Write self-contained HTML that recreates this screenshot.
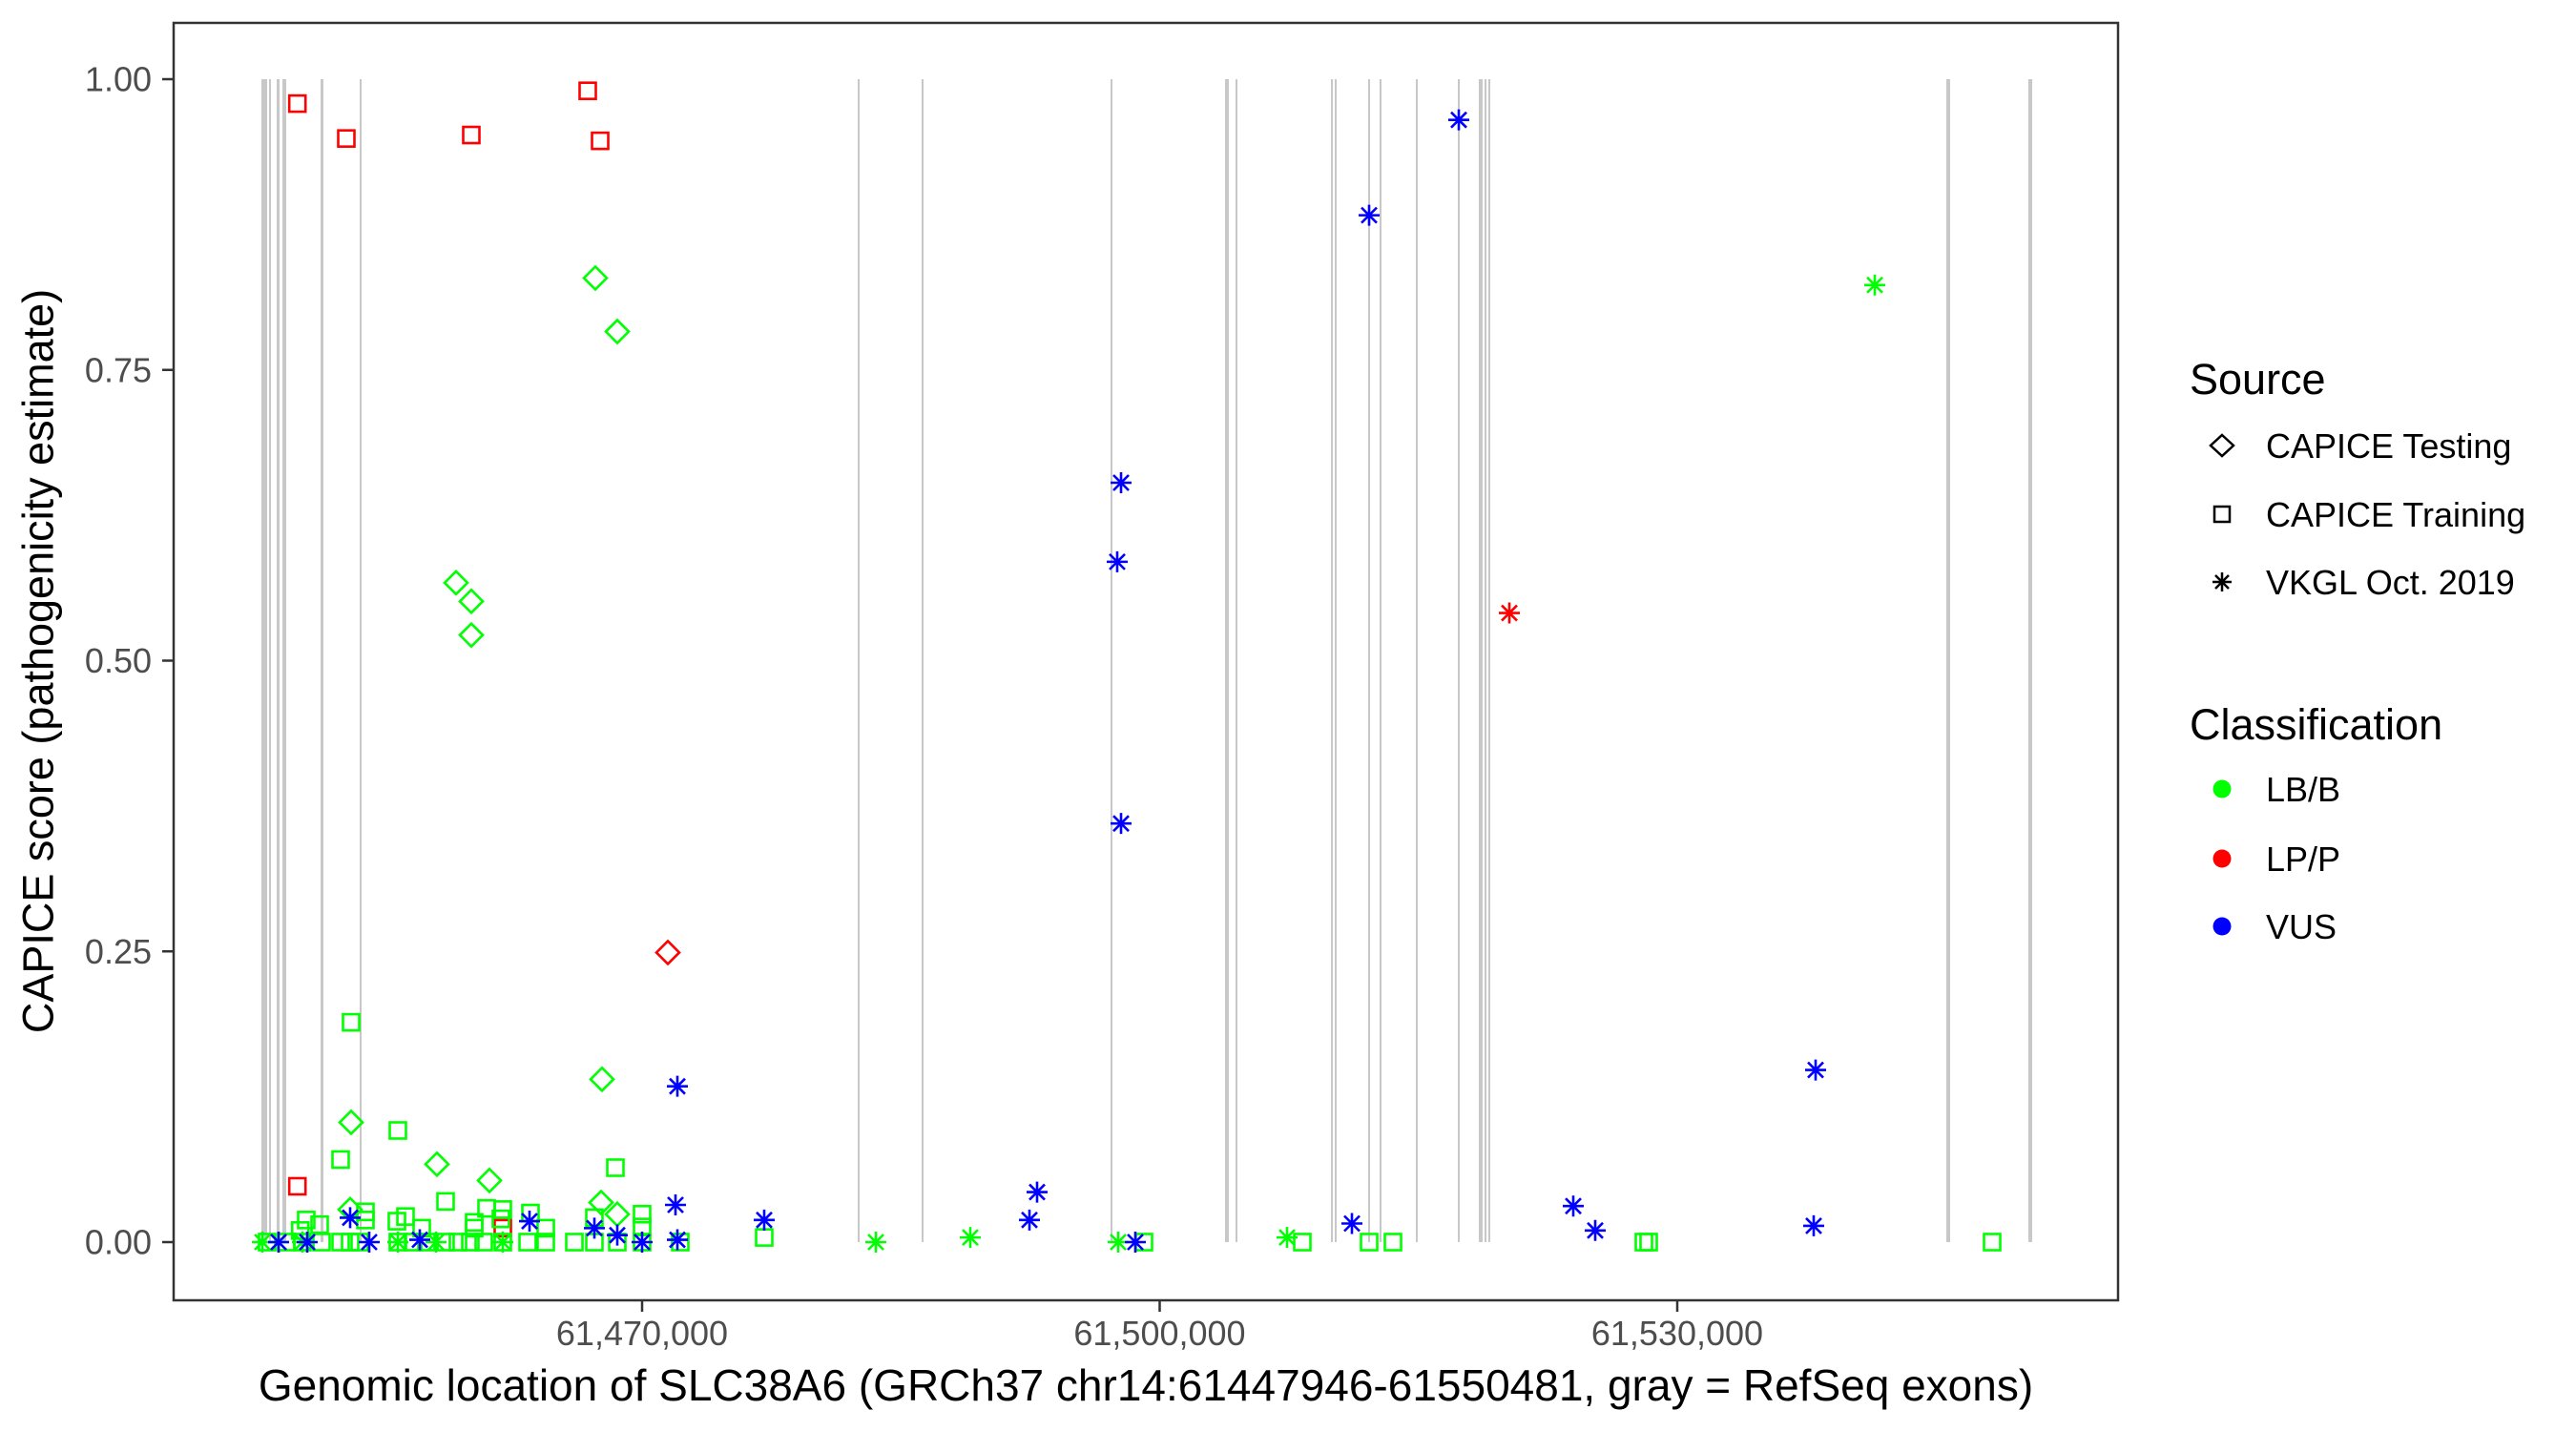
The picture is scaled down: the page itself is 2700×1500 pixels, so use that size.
<!DOCTYPE html>
<html><head><meta charset="utf-8">
<style>
html,body{margin:0;padding:0;background:#fff;}
svg{display:block;font-family:"Liberation Sans",Arial,sans-serif;}
</style></head>
<body>
<svg id="chart" width="2700" height="1500" viewBox="0 0 2700 1500" xmlns="http://www.w3.org/2000/svg">
  <rect x="0" y="0" width="2700" height="1500" fill="#fff"/>
  <g id="exons"></g>
  <g id="points"></g>
  <rect x="182" y="24" width="2038" height="1339" fill="none" stroke="#333" stroke-width="2.5"/>
  <g id="yaxis"></g>
  <g id="xaxis"></g>
  <text x="40" y="693" transform="rotate(-90 40 693)" text-anchor="middle" dominant-baseline="central" font-size="45" fill="#000">CAPICE score (pathogenicity estimate)</text>
  <text x="1201" y="1468" text-anchor="middle" font-size="46" fill="#000">Genomic location of SLC38A6 (GRCh37 chr14:61447946-61550481, gray = RefSeq exons)</text>
  <g id="legend">
    <text x="2295" y="413" font-size="45">Source</text>
    <g>
      <path d="M2329 456 L2341 467 L2329 478 L2317 467 Z" fill="none" stroke="#000" stroke-width="2.5"/>
      <text x="2375" y="480" font-size="36">CAPICE Testing</text>
    </g>
    <g>
      <rect x="2321" y="531" width="16" height="16" fill="none" stroke="#000" stroke-width="2.5"/>
      <text x="2375" y="552" font-size="36">CAPICE Training</text>
    </g>
    <g>
      <path d="M2319 610 H2339 M2329 600 V620 M2322 603 L2336 617 M2336 603 L2322 617" stroke="#000" stroke-width="2.5"/>
      <text x="2375" y="623" font-size="36">VKGL Oct. 2019</text>
    </g>
    <text x="2295" y="775" font-size="45">Classification</text>
    <g>
      <circle cx="2329" cy="827" r="9.5" fill="#00ff00"/>
      <text x="2375" y="840" font-size="36">LB/B</text>
    </g>
    <g>
      <circle cx="2329" cy="900" r="9.5" fill="#ff0000"/>
      <text x="2375" y="913" font-size="36">LP/P</text>
    </g>
    <g>
      <circle cx="2329" cy="971" r="9.5" fill="#0000ff"/>
      <text x="2375" y="984" font-size="36">VUS</text>
    </g>
  </g>
</svg>
<script>
const yTicks = [0, 0.25, 0.5, 0.75, 1.0];
const yTickLabels = ["0.00", "0.25", "0.50", "0.75", "1.00"];
const xTicks = [61470000, 61500000, 61530000];
const xTickLabels = ["61,470,000", "61,500,000", "61,530,000"];
const exonStarts = [61447935,61448378,61448820,61449152,61451364,61453631,61482498,61486203,61497152,61503788,61504397,61509927,61510148,61512083,61512747,61514848,61517282,61518498,61518830,61519051,61545595,61550351];
const exonEnds   = [61448267,61448489,61448986,61449373,61451530,61453742,61482608,61486314,61497263,61504010,61504507,61510037,61510258,61512194,61512858,61514959,61517392,61518719,61518941,61519162,61545816,61550572];
// source: T = CAPICE Testing, R = CAPICE Training, V = VKGL Oct. 2019 ; class: B = LB/B, P = LP/P, U = VUS
const pos = [
61461926,
61453134,61452525,61455843,61458608,61468452,61477078,61450534,61451309,61450185,61453963,61453963,61455788,61456286,61457226,61460986,61461926,61461816,61460267,61460267,61463530,61464415,61467235,61470000,61470000,
61448267,61449373,61450313,61451419,61452525,61453078,61453631,61455843,61456728,61457502,61458608,61459327,61460046,61460820,61461926,61463364,61464415,61466074,61467235,61468562,61470000,61472212,
61499088,61508268,61512139,61513521,61528065,61528342,61548250,
61450020,61452857,61460101,61466848,61467567,61450020,
61467290,61468562,61459216,61460101,61460101,61453134,61458110,61461152,61467677,61467622,61468562,61453078,
61471493,
61447991,61448931,61450313,61455843,61458055,61461926,61483549,61489023,61507383,61497595,61541448,
61520268,
61448931,61450590,61453078,61454184,61457115,61463475,61467235,61468562,61470000,61471936,61472046,61472046,61477078,61517337,61512139,61497761,61497539,61497761,61538019,61492894,61492452,61511143,61523973,61525245,61537908,61498590
];
const scores = [
0.012,
0.189,0.071,0.096,0.035,0.064,0.004,0.019,0.015,0.010,0.026,0.019,0.018,0.022,0.012,0.029,0.028,0.020,0.017,0.012,0.025,0.012,0.021,0.024,0.013,
0,0,0,0,0,0,0,0,0,0,0,0,0,0,0,0,0,0,0,0,0,0,
0,0,0,0,0,0,0,
0.979,0.949,0.952,0.990,0.947,0.048,
0.829,0.783,0.567,0.551,0.522,0.103,0.067,0.053,0.140,0.034,0.024,0.028,
0.249,
0,0,0,0,0,0,0,0.004,0.004,0,0.823,
0.541,
0,0,0.021,0,0.002,0.018,0.012,0.006,0,0.032,0.002,0.134,0.019,0.965,0.883,0.653,0.585,0.360,0.148,0.043,0.019,0.016,0.031,0.010,0.014,0
];
const sources = [
"R",
"R","R","R","R","R","R","R","R","R","R","R","R","R","R","R","R","R","R","R","R","R","R","R","R",
"R","R","R","R","R","R","R","R","R","R","R","R","R","R","R","R","R","R","R","R","R","R",
"R","R","R","R","R","R","R",
"R","R","R","R","R","R",
"T","T","T","T","T","T","T","T","T","T","T","T",
"T",
"V","V","V","V","V","V","V","V","V","V","V",
"V",
"V","V","V","V","V","V","V","V","V","V","V","V","V","V","V","V","V","V","V","V","V","V","V","V","V","V"
];
const classes = [
"P",
"B","B","B","B","B","B","B","B","B","B","B","B","B","B","B","B","B","B","B","B","B","B","B","B",
"B","B","B","B","B","B","B","B","B","B","B","B","B","B","B","B","B","B","B","B","B","B",
"B","B","B","B","B","B","B",
"P","P","P","P","P","P",
"B","B","B","B","B","B","B","B","B","B","B","B",
"P",
"B","B","B","B","B","B","B","B","B","B","B",
"P",
"U","U","U","U","U","U","U","U","U","U","U","U","U","U","U","U","U","U","U","U","U","U","U","U","U","U"
];
const classColors = {B:"#00ff00", P:"#ff0000", U:"#0000ff"};

const NS = "http://www.w3.org/2000/svg";
function xScale(bp){ return 673 + (bp - 61470000) * 0.0180833; }
function yScale(v){ return 1302 - v * 1219; }
function mk(tag, attrs){ const e=document.createElementNS(NS,tag); for(const k in attrs) e.setAttribute(k,attrs[k]); return e; }

const exG = document.getElementById("exons");
for(let i=0;i<exonStarts.length;i++){
  const x0 = xScale(exonStarts[i]), x1 = xScale(exonEnds[i]);
  const w = Math.max(2, x1-x0);
  const r = mk("rect",{x:x0,y:yScale(1),width:w,height:yScale(0)-yScale(1),fill:"#c8c8c8"});
  
  
  exG.appendChild(r);
}

const yG = document.getElementById("yaxis");
yTicks.forEach((t,i)=>{
  const y = yScale(t);
  const l = mk("line",{x1:170,x2:182,y1:y,y2:y,stroke:"#333","stroke-width":2.5});
  
  
  yG.appendChild(l);
  const tx = mk("text",{x:159,y:y+12.5,"text-anchor":"end","font-size":36,fill:"#4d4d4d"});
  tx.textContent = yTickLabels[i];
  
  
  yG.appendChild(tx);
});
const xG = document.getElementById("xaxis");
xTicks.forEach((t,i)=>{
  const x = xScale(t);
  const l = mk("line",{x1:x,x2:x,y1:1363,y2:1375,stroke:"#333","stroke-width":2.5});
  
  
  xG.appendChild(l);
  const tx = mk("text",{x:x,y:1410,"text-anchor":"middle","font-size":36,fill:"#4d4d4d"});
  tx.textContent = xTickLabels[i];
  
  
  xG.appendChild(tx);
});

const pG = document.getElementById("points");
for(let i=0;i<pos.length;i++){
  const cx = xScale(pos[i]), cy = yScale(scores[i]);
  const c = classColors[classes[i]];
  let el;
  if(sources[i]==="R"){
    el = mk("rect",{x:cx-8.5,y:cy-8.5,width:17,height:17,fill:"none",stroke:c,"stroke-width":2.6});
  } else if(sources[i]==="T"){
    el = mk("path",{d:`M${cx} ${cy-12} L${cx+12} ${cy} L${cx} ${cy+12} L${cx-12} ${cy} Z`,fill:"none",stroke:c,"stroke-width":2.6});
  } else {
    el = mk("path",{d:`M${cx-11} ${cy} H${cx+11} M${cx} ${cy-11} V${cy+11} M${cx-8} ${cy-8} L${cx+8} ${cy+8} M${cx+8} ${cy-8} L${cx-8} ${cy+8}`,stroke:c,"stroke-width":2.6});
  }
  
  
  pG.appendChild(el);
}
</script>
</body></html>
